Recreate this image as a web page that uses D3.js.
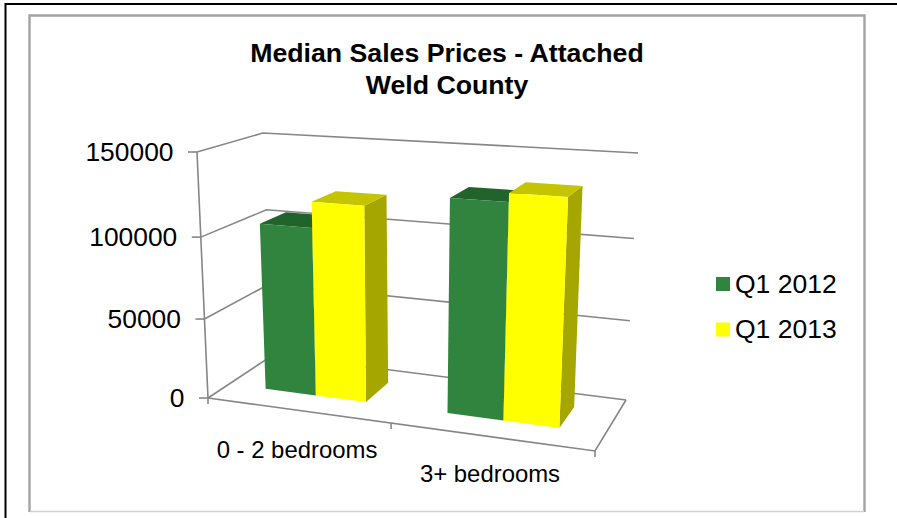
<!DOCTYPE html>
<html>
<head>
<meta charset="utf-8">
<script src="https://cdn.jsdelivr.net/npm/d3@7"></script>
<style>
  html, body { margin: 0; padding: 0; background: #fff; }
  svg { display: block; }
  text { font-family: "Liberation Sans", Arial, sans-serif; fill: #000; }
</style>
</head>
<body>
<svg id="chart" width="897" height="518"></svg>
<script>
// Chart content
const titleLines = ["Median Sales Prices - Attached", "Weld County"];
const categories = ["0 - 2 bedrooms", "3+ bedrooms"];
const seriesNames = ["Q1 2012", "Q1 2013"];
const q1_2012 = [104500, 128000];
const q1_2013 = [120000, 133000];
const valueTicks = [0, 50000, 100000, 150000];

const svg = d3.select("#chart");

// Box corners in page space: floor and ceiling, front and back, left and right.
const floorCorners = { fl: [208, 398], fr: [595, 451], br: [626, 400], bl: [273, 355] };
const ceilCorners  = { fl: [197, 152], fr: [608, 177], br: [638, 153], bl: [263, 133] };

const lerp = (a, b, t) => a + (b - a) * t;
const lerp2 = (p, q, t) => [lerp(p[0], q[0], t), lerp(p[1], q[1], t)];

// Perspective foreshortening along the width and height of the box.
const widthWarp = d3.scaleLinear().domain([0, 0.5, 1]).range([0, 0.473, 1]);
const valueScale = d3.scaleLinear().domain(valueTicks).range([0, 0.321, 0.654, 1]);

// u: across the categories, w: front to back, v: floor to ceiling.
function project(u, w, v) {
  const su = widthWarp(u);
  const plane = c => lerp2(lerp2(c.fl, c.fr, su), lerp2(c.bl, c.br, su), w);
  return lerp2(plane(floorCorners), plane(ceilCorners), v);
}

const categoryBand = d3.scaleBand().domain(categories).range([-0.007, 0.993])
  .paddingInner(0.435).paddingOuter(0.2175);
const seriesBand = d3.scaleBand().domain(seriesNames).range([0, categoryBand.bandwidth()]);
const depthFront = 0.33, depthBack = 0.75;

const poly = pts => d3.line()(pts) + "Z";
const axisColor = "#868686";

// Page rule along the top and left edges
svg.append("path").attr("d", "M5.5,518V4H897")
  .attr("fill", "none").attr("stroke", "#000").attr("stroke-width", 2);

// Chart area frame: the bottom edge is lighter than the other three
svg.append("path").attr("d", "M29.5,512V15.5H864.5V512")
  .attr("fill", "none").attr("stroke", "#a3a3a3").attr("stroke-width", 2.4);
svg.append("path").attr("d", "M30,511.5H864")
  .attr("fill", "none").attr("stroke", "#d2d2d2").attr("stroke-width", 1.5);

// Title
svg.append("text").attr("text-anchor", "middle").attr("font-weight", "bold").attr("font-size", 26.7)
  .selectAll("tspan").data(titleLines).join("tspan")
  .attr("x", 447).attr("y", (d, i) => 61.5 + i * 32).text(d => d);

// Gridlines on the back and left walls
const grid = svg.append("g").attr("fill", "none").attr("stroke", axisColor).attr("stroke-width", 1.6);
valueTicks.forEach(t => {
  const v = valueScale(t);
  grid.append("path").attr("d", d3.line()([project(0, 0, v), project(0, 1, v), project(1, 1, v)]));
  const p = project(0, 0, v);
  grid.append("path").attr("d", d3.line()([[p[0] - 9, p[1]], p]));
});

// Value axis and floor outline
grid.append("path").attr("d", d3.line()([project(0, 0, 1), project(0, 0, 0)]));
grid.append("path").attr("d", d3.line()([project(0, 0, 0), project(1, 0, 0), project(1, 1, 0)]));
[0, 0.5, 1].forEach(u => {
  const p = project(u, 0, 0);
  grid.append("path").attr("d", d3.line()([p, [p[0], p[1] + 6]]));
});

// Value labels
svg.append("g").attr("text-anchor", "end").attr("font-size", 26.4)
  .selectAll("text").data(valueTicks).join("text")
  .attr("x", t => project(0, 0, valueScale(t))[0] - 23.5)
  .attr("y", t => project(0, 0, valueScale(t))[1] + 9)
  .text(d => d);

// Bars
const seriesStyles = [
  { values: q1_2012, front: "#31843d", top: "#20642c", side: "#1f5d29" },
  { values: q1_2013, front: "#ffff00", top: "#c4c400", side: "#a6a600" }
];
const bars = svg.append("g");
seriesStyles.forEach((s, si) => {
  categories.forEach((c, ci) => {
    const u0 = categoryBand(c) + seriesBand(seriesNames[si]);
    const u1 = u0 + seriesBand.bandwidth();
    const v = valueScale(s.values[ci]);
    bars.append("path").attr("fill", s.side)
      .attr("d", poly([project(u1, depthFront, 0), project(u1, depthBack, 0), project(u1, depthBack, v), project(u1, depthFront, v)]));
    bars.append("path").attr("fill", s.top)
      .attr("d", poly([project(u0, depthFront, v), project(u1, depthFront, v), project(u1, depthBack, v), project(u0, depthBack, v)]));
    bars.append("path").attr("fill", s.front)
      .attr("d", poly([project(u0, depthFront, 0), project(u1, depthFront, 0), project(u1, depthFront, v), project(u0, depthFront, v)]));
  });
});

// Category labels
svg.append("g").attr("font-size", 23.9).attr("text-anchor", "middle")
  .selectAll("text").data(categories).join("text")
  .attr("x", (d, i) => [297, 490][i])
  .attr("y", (d, i) => [458, 481.5][i])
  .text(d => d);

// Legend
const legend = svg.append("g").selectAll("g").data(seriesNames).join("g")
  .attr("transform", (d, i) => `translate(716,${277 + i * 45.5})`);
legend.append("rect").attr("width", 14).attr("height", 14)
  .attr("fill", (d, i) => seriesStyles[i].front);
legend.append("text").attr("x", 19).attr("y", 15.5).attr("font-size", 26.5).text(d => d);
</script>
</body>
</html>
